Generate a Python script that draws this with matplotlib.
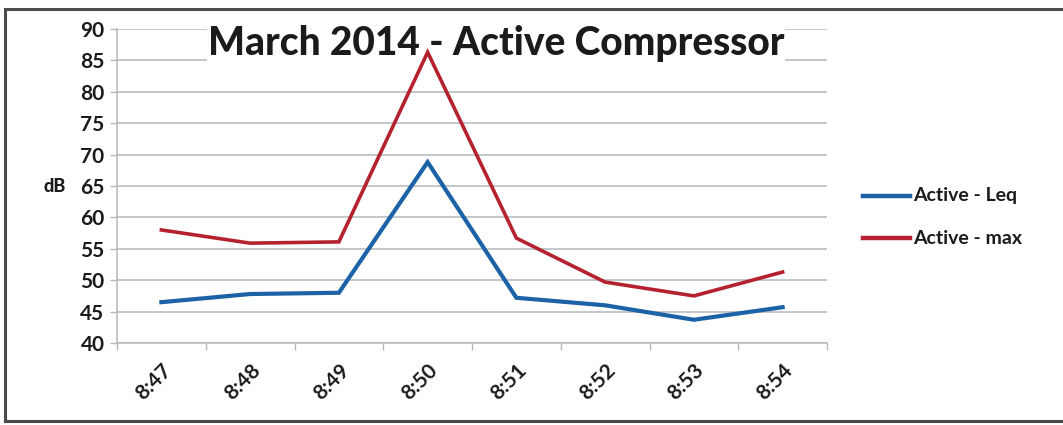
import matplotlib
matplotlib.use("Agg")
import matplotlib.pyplot as plt
from matplotlib.lines import Line2D
import numpy as np

times = ["8:47", "8:48", "8:49", "8:50", "8:51", "8:52", "8:53", "8:54"]
leq = [46.5, 47.8, 48.0, 68.8, 47.2, 46.0, 43.7, 45.7]
lmax = [58.0, 55.9, 56.1, 86.3, 56.7, 49.7, 47.5, 51.3]
y_ticks = [40, 45, 50, 55, 60, 65, 70, 75, 80, 85, 90]

BLUE = "#1c62a6"
RED = "#b5222f"
GRID = "#b4b8ba"
TEXT = "#1b1b1b"
FONT = "Lato"

fig = plt.figure(figsize=(10.63, 4.25), dpi=100)
ax = fig.add_axes([117 / 1063, 1 - 343 / 425, (827 - 117) / 1063, (343 - 29) / 425])
ax.patch.set_alpha(0)

x = np.arange(len(times)) + 0.5
ax.plot(x, leq, color=BLUE, lw=3.0, solid_joinstyle="miter", zorder=3)
ax.plot(x, lmax, color=RED, lw=2.6, solid_joinstyle="miter", zorder=3)

ax.set_xlim(0, len(times))
ax.set_ylim(40, 90)
ax.set_yticks(y_ticks)
ax.set_yticklabels([str(v) for v in y_ticks], fontsize=15, fontweight="bold",
                   family=FONT, color=TEXT)
ax.yaxis.grid(True, color=GRID, lw=1.1)
ax.set_axisbelow(True)

# Category boundaries carry the tick marks, centres carry the labels
ax.set_xticks(np.arange(len(times) + 1))
ax.set_xticklabels([])
ax.set_xticks(x, minor=True)
ax.set_xticklabels(times, minor=True, rotation=45, ha="right", va="top",
                   rotation_mode="anchor", fontsize=15, fontweight="bold",
                   family=FONT, color=TEXT)
ax.tick_params(axis="x", which="major", length=5, width=1, color=GRID, direction="out")
ax.tick_params(axis="x", which="minor", length=0, pad=12)
ax.tick_params(axis="y", length=5, width=1, color=GRID, pad=4)

for side in ("top", "right"):
    ax.spines[side].set_visible(False)
for side in ("left", "bottom"):
    ax.spines[side].set_color(GRID)
    ax.spines[side].set_linewidth(1.1)

fig.text(55 / 1063, 1 - 187 / 425, "dB", fontsize=13, fontweight="black",
         family=FONT, color=TEXT, ha="center", va="center")

# Title sits above the gridlines but beneath the data lines
ax.text(496 / 1063, 1 - 44 / 425, "March 2014 - Active Compressor", fontsize=28,
        fontweight="black", family=FONT, color=TEXT, ha="center", va="center",
        transform=fig.transFigure, zorder=2,
        bbox=dict(facecolor="white", edgecolor="none", pad=0.3))

# Legend drawn beside the plot area
legend_items = [("Active - Leq", BLUE, 196), ("Active - max", RED, 238)]
for label, color, ypix in legend_items:
    yf = 1 - ypix / 425
    fig.add_artist(Line2D([863 / 1063, 910 / 1063], [yf, yf], color=color, lw=3.2,
                          transform=fig.transFigure))
    fig.text(913 / 1063, yf, label, fontsize=14, fontweight="bold", family=FONT,
             color=TEXT, ha="left", va="center")

# Outer frame
frame = dict(color="#4a4a4a", lw=2.2, transform=fig.transFigure)
fig.add_artist(Line2D([5 / 1063, 1.0], [1 - 9 / 425, 1 - 9 / 425], **frame))
fig.add_artist(Line2D([5 / 1063, 5 / 1063], [1 - 9 / 425, 1 - 421 / 425], **frame))
fig.add_artist(Line2D([5 / 1063, 1.0], [1 - 421 / 425, 1 - 421 / 425], **frame))

fig.savefig("out.png", dpi=100, facecolor="white")
